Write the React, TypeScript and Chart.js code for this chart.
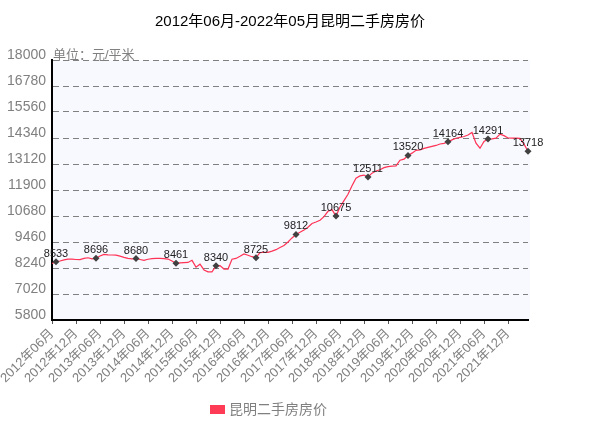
import { useEffect, useRef } from 'react';
import { Chart, registerables } from 'chart.js';

Chart.register(...registerables);

const FONT = "'Liberation Sans', Arial, 'Noto Sans CJK SC', sans-serif";

const chartTitle = '2012年06月-2022年05月昆明二手房房价';
const seriesName = '昆明二手房房价';
const unitLabel = '单位：元/平米';

// categories: 2012年06月 … 2022年05月 (120 months)
const firstYear = 2012;
const firstMonth = 6;
const monthCount = 120;
const months: string[] = [];
for (let i = 0; i < monthCount; i++) {
  const m = firstMonth - 1 + i;
  const y = firstYear + Math.floor(m / 12);
  const mm = (m % 12) + 1;
  months.push(`${y}年${mm < 10 ? '0' + mm : mm}月`);
}

// 元/平米
const prices = [
  8450, 8533, 8570, 8620, 8660, 8660, 8640, 8630, 8690, 8720,
  8670, 8696, 8800, 8880, 8860, 8850, 8840, 8800, 8740, 8690,
  8670, 8680, 8640, 8600, 8650, 8680, 8690, 8690, 8680, 8660,
  8570, 8461, 8480, 8490, 8500, 8600, 8280, 8420, 8150, 8060,
  8060, 8340, 8350, 8190, 8190, 8650, 8690, 8790, 8900, 8840,
  8770, 8725, 8960, 8980, 8970, 9030, 9100, 9200, 9300, 9460,
  9650, 9812, 9920, 10020, 10150, 10330, 10400, 10480, 10650, 10900,
  10980, 10675, 11100, 11400, 11700, 12100, 12450, 12560, 12600, 12511,
  12690, 12790, 12850, 12950, 13000, 13020, 13030, 13300, 13350, 13520,
  13630, 13760, 13780, 13850, 13900, 13950, 13990, 14060, 14090, 14164,
  14250, 14330, 14370, 14410, 14480, 14600, 14100, 13860, 14180, 14291,
  14300, 14330, 14520, 14450, 14340, 14330, 14330, 14320, 14050, 13718,
];

// points that carry a marker and a value label
const markedIndices = [1, 11, 21, 31, 41, 51, 61, 71, 79, 89, 99, 109, 119];

const yTicks = [5800, 7020, 8240, 9460, 10680, 11900, 13120, 14340, 15560, 16780, 18000];
const xLabelEvery = 6;

const decorPlugin = {
  id: 'decor',
  beforeDraw(chart: any) {
    const { ctx, chartArea: a } = chart;
    ctx.save();
    ctx.fillStyle = '#F8F8FF';
    ctx.fillRect(a.left - 1, a.top, a.right - a.left + 3, a.bottom - a.top);
    ctx.restore();
  },
  afterDatasetsDraw(chart: any) {
    const { ctx } = chart;
    const meta = chart.getDatasetMeta(0);
    ctx.save();
    ctx.font = `11px ${FONT}`;
    ctx.fillStyle = '#222222';
    ctx.textAlign = 'center';
    ctx.textBaseline = 'alphabetic';
    markedIndices.forEach((i) => {
      const p = meta.data[i];
      if (p) ctx.fillText(String(prices[i]), p.x, p.y - 5);
    });
    ctx.restore();
  },
  afterDraw(chart: any) {
    const { ctx, chartArea: a } = chart;
    ctx.save();
    ctx.font = `13px ${FONT}`;
    ctx.fillStyle = '#808080';
    ctx.textAlign = 'left';
    ctx.textBaseline = 'middle';
    ctx.fillText(unitLabel, a.left + 1, a.top - 5);
    // legend
    ctx.fillStyle = '#FF3B55';
    ctx.fillRect(210, 405, 15, 9);
    ctx.font = `14px ${FONT}`;
    ctx.fillStyle = '#808080';
    ctx.fillText(seriesName, 229, 410);
    ctx.restore();
  },
};

export default function App() {
  const canvasRef = useRef<HTMLCanvasElement | null>(null);

  useEffect(() => {
    if (!canvasRef.current) return;
    const chart = new Chart(canvasRef.current, {
      type: 'line',
      data: {
        labels: months,
        datasets: [
          {
            label: seriesName,
            data: prices,
            borderColor: '#FF3355',
            backgroundColor: '#FF3B55',
            borderWidth: 1.2,
            tension: 0,
            fill: false,
            clip: false as any,
            pointStyle: 'rectRot',
            pointRadius: (ctx: any) => (markedIndices.includes(ctx.dataIndex) ? 3.5 : 0),
            pointHoverRadius: 0,
            pointBackgroundColor: '#404040',
            pointBorderColor: '#404040',
            pointBorderWidth: 0,
          },
        ],
      },
      options: {
        responsive: false,
        animation: false,
        devicePixelRatio: 1,
        layout: { padding: { left: 0, right: 82, top: 0, bottom: 0 } },
        plugins: {
          legend: { display: false },
          tooltip: { enabled: false },
          title: {
            display: true,
            text: chartTitle,
            fullSize: false,
            color: '#000000',
            font: { size: 15, family: FONT, weight: 'normal' },
            padding: { top: 13, bottom: 29 },
          },
        },
        scales: {
          x: {
            type: 'category',
            ticks: {
              autoSkip: false,
              minRotation: 45,
              maxRotation: 45,
              color: '#808080',
              font: { size: 13, family: FONT },
              padding: 2,
              callback: (_v: any, i: number) => (i % xLabelEvery === 0 ? months[i] : null),
            },
            grid: { drawOnChartArea: false, drawTicks: true, tickLength: 4, color: '#555555' },
            border: { color: '#000000', width: 2 },
            afterFit: (s: any) => {
              s.height = 116;
            },
          },
          y: {
            min: 5800,
            max: 18000,
            afterBuildTicks: (s: any) => {
              s.ticks = yTicks.map((v) => ({ value: v }));
            },
            ticks: {
              color: '#808080',
              font: { size: 14, family: FONT },
              padding: 6,
              labelOffset: -5,
              callback: (v: any) => String(v),
            },
            grid: {
              color: '#808080',
              drawTicks: false,
              lineWidth: (ctx: any) => (ctx.tick && ctx.tick.value === 5800 ? 0 : 1),
            },
            border: { color: '#000000', width: 2, dash: [6, 4] },
            afterFit: (s: any) => {
              s.width = 52;
            },
          },
        },
      } as any,
      plugins: [decorPlugin],
    });
    return () => chart.destroy();
  }, []);

  return (
    <div style={{ position: 'absolute', left: 0, top: 0, width: 610, height: 436 }}>
      <canvas ref={canvasRef} width={610} height={436} style={{ display: 'block' }} />
    </div>
  );
}
